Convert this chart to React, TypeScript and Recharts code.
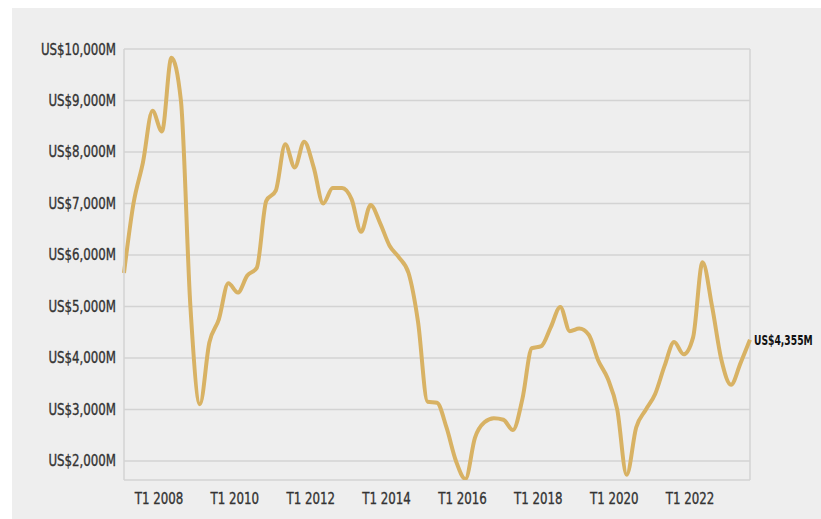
import { CartesianGrid, Line, LineChart, ReferenceLine, XAxis, YAxis } from "recharts";

const years = [2007, 2008, 2009, 2010, 2011, 2012, 2013, 2014, 2015, 2016, 2017, 2018, 2019, 2020, 2021, 2022, 2023];

// quarterly values, US$ millions, T1 2007 .. T3 2023
const values = [
  5650, 7000, 7800, 8800, 8400, 9830, 9000, 5000,
  3100, 4300, 4750, 5450, 5270, 5600, 5750, 7050,
  7250, 8150, 7700, 8200, 7700, 7000, 7300, 7300,
  7080, 6450, 6970, 6620, 6180, 5950, 5650, 4700,
  3150, 3130, 2650, 2000, 1650, 2450, 2750, 2830,
  2800, 2600, 3200, 4190, 4230, 4600, 4990, 4520,
  4570, 4450, 3950, 3600, 3000, 1730, 2650, 2990,
  3300, 3850, 4310, 4070, 4400, 5860, 5000, 3950,
  3480, 3900, 4355,
];

const yTicks = [2000, 3000, 4000, 5000, 6000, 7000, 8000, 9000, 10000];
const xTicks = ["T1 2008", "T1 2010", "T1 2012", "T1 2014", "T1 2016", "T1 2018", "T1 2020", "T1 2022"];

const quarters = years.flatMap((y) => [1, 2, 3, 4].map((q) => `T${q} ${y}`)).slice(0, values.length);
const data = values.map((v, i) => ({ quarter: quarters[i], value: v }));

const FONT = "'DejaVu Sans Condensed', 'DejaVu Sans', sans-serif";
const GOLD = "#d8b264";
const GRID = "#d3d3d3";
const INK = "#333";
const SQUEEZE = 0.82; // narrow the condensed font a bit more

const fmt = (v: number) => `US$${v.toLocaleString("en-US")}M`;

const YTick = (props: any) => {
  const { x, y, payload } = props;
  return (
    <g transform={`translate(${x},${y}) scale(${SQUEEZE},1)`}>
      <text textAnchor="end" dy={5.5} fontFamily={FONT} fontSize={16} fill={INK} stroke={INK} strokeWidth={0.35}>
        {fmt(payload.value)}
      </text>
    </g>
  );
};

const XTick = (props: any) => {
  const { x, y, payload } = props;
  return (
    <g transform={`translate(${x - 3},${y}) scale(${SQUEEZE},1)`}>
      <text textAnchor="middle" dy={12} fontFamily={FONT} fontSize={16} fill={INK} stroke={INK} strokeWidth={0.35}>
        {payload.value}
      </text>
    </g>
  );
};

const EndLabel = (props: any) => {
  const { x, y, index, value } = props;
  if (index !== values.length - 1) return null;
  return (
    <g transform={`translate(${x + 4},${y}) scale(0.73,1)`}>
      <text dy={5} fontFamily={FONT} fontWeight="bold" fontSize={14} fill="#111">
        {fmt(value)}
      </text>
    </g>
  );
};

export default function App() {
  return (
    <div style={{ position: "absolute", left: 0, top: 0, width: 821, height: 519, background: "#fff" }}>
      <div style={{ position: "absolute", left: 12, top: 8, right: 0, bottom: 0, background: "#eeeeee" }} />
      <div style={{ position: "absolute", left: 0, top: 0 }}>
        <LineChart width={821} height={519} data={data} margin={{ top: 49, right: 71, bottom: 9, left: 0 }}>
          <CartesianGrid vertical={false} stroke={GRID} strokeWidth={1.5} />
          <XAxis
            dataKey="quarter"
            ticks={xTicks}
            axisLine={false}
            tickLine={false}
            height={30}
            tickMargin={6}
            tick={<XTick />}
          />
          <YAxis
            domain={[1630, 10000]}
            ticks={yTicks}
            allowDataOverflow
            width={124}
            axisLine={{ stroke: GRID, strokeWidth: 1.5 }}
            tickLine={false}
            tick={<YTick />}
          />
          <ReferenceLine x={quarters[quarters.length - 1]} stroke={GRID} strokeWidth={1.5} />
          <Line
            type="monotone"
            dataKey="value"
            stroke={GOLD}
            strokeWidth={4}
            dot={false}
            isAnimationActive={false}
            label={<EndLabel />}
          />
        </LineChart>
      </div>
    </div>
  );
}
